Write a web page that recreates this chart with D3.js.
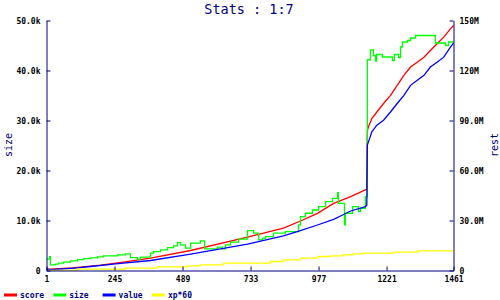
<!DOCTYPE html>
<html>
<head>
<meta charset="utf-8">
<script src="https://cdn.jsdelivr.net/npm/d3@7"></script>
<style>
  body { margin: 0; background: #fff; }
  svg { display: block; }
</style>
</head>
<body>
<svg width="500" height="300"></svg>
<script>
// Data (day, value)
// size in thousands (left axis), the rest in millions (right axis)
const xTicks = [1, 245, 489, 733, 977, 1221, 1461];
const leftTicks = [0, 10, 20, 30, 40, 50];
const leftTickLabels = ["0", "10.0k", "20.0k", "30.0k", "40.0k", "50.0k"];
const rightTicks = [0, 30, 60, 90, 120, 150];
const rightTickLabels = ["0", "30.0M", "60.0M", "90.0M", "120M", "150M"];
const seriesNames = ["score", "size", "value", "xp*60"];

const scoreData = [
  [1, 0.7], [94, 1.6], [195, 3.2], [277, 5.0], [374, 7.4], [518, 12.0],
  [722, 20.0], [851, 25.4], [912, 29.7], [973, 34.3], [1031, 40.3],
  [1092, 44.3], [1149, 48.7], [1152, 84.0], [1156, 86.2], [1168, 91.2],
  [1186, 95.1], [1210, 100.2], [1235, 105.1], [1259, 111.1], [1283, 117.1],
  [1307, 122.1], [1331, 125.0], [1355, 128.0], [1378, 132.0], [1402, 136.0],
  [1426, 140.0], [1450, 145.0], [1461, 147.0]
];

const sizeData = [
  [1, 2.27], [12, 2.79], [15, 1.14], [33, 1.28], [44, 1.48], [62, 1.67],
  [87, 1.93], [112, 2.19], [134, 2.39], [159, 2.53], [184, 2.73], [205, 2.93],
  [256, 3.13], [284, 3.33], [302, 2.59], [327, 2.27], [338, 2.67], [374, 3.47],
  [385, 3.79], [410, 4.13], [435, 4.59], [457, 4.93], [471, 5.58], [482, 5.12],
  [500, 4.47], [518, 5.46], [553, 5.92], [568, 4.33], [614, 4.67], [632, 4.33],
  [643, 5.12], [661, 5.66], [690, 6.26], [722, 7.98], [744, 7.46], [762, 6.12],
  [776, 6.46], [787, 6.78], [815, 7.46], [858, 7.78], [905, 9.11], [912, 10.77],
  [930, 11.45], [955, 12.1], [977, 12.76], [1002, 13.76], [1027, 14.44],
  [1045, 15.55], [1048, 13.44], [1070, 9.11], [1073, 11.45], [1099, 12.76],
  [1120, 11.76], [1127, 12.44], [1145, 14.76], [1152, 42.15], [1163, 44.1],
  [1174, 43.0], [1181, 41.9], [1185, 43.2], [1206, 42.7], [1242, 42.0],
  [1249, 43.2], [1264, 42.6], [1271, 44.7], [1278, 45.7], [1296, 46.0],
  [1307, 46.5], [1325, 47.0], [1396, 45.5], [1432, 45.0], [1443, 45.7],
  [1461, 45.7]
];

const valueData = [
  [1, 1.0], [15, 0.5], [62, 1.0], [112, 1.6], [159, 2.4], [249, 4.0],
  [374, 6.0], [518, 9.8], [722, 15.8], [851, 20.8], [912, 23.9], [973, 27.3],
  [1031, 30.7], [1063, 33.3], [1092, 35.7], [1145, 38.3], [1150, 39.3],
  [1152, 75.2], [1156, 77.2], [1168, 83.2], [1186, 87.2], [1210, 90.2],
  [1235, 95.1], [1259, 100.2], [1283, 105.1], [1307, 111.1], [1331, 114.1],
  [1355, 117.1], [1378, 122.1], [1402, 125.0], [1426, 128.0], [1450, 134.0],
  [1461, 136.4]
];

const xpData = [
  [1, 0.1], [111, 0.8], [284, 1.4], [398, 2.2], [506, 2.8], [553, 3.4],
  [636, 4.4], [804, 5.4], [851, 6.4], [912, 7.4], [973, 8.4], [1020, 8.8],
  [1063, 9.4], [1102, 10.0], [1138, 10.4], [1246, 11.0], [1332, 11.8],
  [1461, 11.8]
];

const navy = "#000080";
const colors = ["#ff0000", "#00ff00", "#0000ff", "#ffff00"];

var svg = d3.select("svg");
var plotLeft = 46.5, plotRight = 453.5, plotTop = 20.5, plotBottom = 270.5;

// Scales
var x = d3.scaleLinear().domain([1, 1461]).range([plotLeft, plotRight]);
var yL = d3.scaleLinear().domain([0, 50]).range([plotBottom, plotTop]);
var yR = d3.scaleLinear().domain([0, 150]).range([plotBottom, plotTop]);

// Title
svg.append("text")
    .attr("x", 249)
    .attr("y", 14)
    .attr("text-anchor", "middle")
    .attr("font-family", "DejaVu Sans Mono")
    .attr("font-size", "13.5px")
    .attr("fill", navy)
    .text("Stats : 1:7");

// Axis labels
svg.append("text")
    .attr("transform", "translate(12,145) rotate(-90)")
    .attr("text-anchor", "middle")
    .attr("font-family", "DejaVu Sans Mono")
    .attr("font-size", "10px")
    .attr("fill", navy)
    .text("size");
svg.append("text")
    .attr("transform", "translate(498,145) rotate(-90)")
    .attr("text-anchor", "middle")
    .attr("font-family", "DejaVu Sans Mono")
    .attr("font-size", "10px")
    .attr("fill", navy)
    .text("rest");

// Series lines, drawn in legend order
var series = [
  { data: scoreData, y: yR, curve: d3.curveLinear },
  { data: sizeData, y: yL, curve: d3.curveStepAfter },
  { data: valueData, y: yR, curve: d3.curveLinear },
  { data: xpData, y: yR, curve: d3.curveStepAfter }
];
series.forEach(function (s, i) {
  var line = d3.line()
      .x(function (d) { return x(d[0]); })
      .y(function (d) { return s.y(d[1]); })
      .curve(s.curve);
  svg.append("path")
      .datum(s.data)
      .attr("fill", "none")
      .attr("stroke", colors[i])
      .attr("stroke-width", 1.3)
      .attr("d", line);
});

// Axes (ticks pointing inward)
function styleAxis(g) {
  g.selectAll("path, line").attr("stroke", navy).attr("stroke-width", 1);
  g.selectAll("text")
      .attr("font-family", "DejaVu Sans Mono")
      .attr("font-weight", "bold")
      .attr("font-size", "8px")
      .attr("fill", "#000");
}

svg.append("g")
    .attr("transform", "translate(0," + plotBottom + ")")
    .call(d3.axisBottom(x).tickValues(xTicks).tickFormat(d3.format("d"))
        .tickSizeInner(-4).tickSizeOuter(0).tickPadding(6))
    .call(styleAxis);

svg.append("g")
    .attr("transform", "translate(" + plotLeft + ",0)")
    .call(d3.axisLeft(yL).tickValues(leftTicks)
        .tickFormat(function (d, i) { return leftTickLabels[i]; })
        .tickSizeInner(-4).tickSizeOuter(0).tickPadding(6))
    .call(styleAxis);

svg.append("g")
    .attr("transform", "translate(" + plotRight + ",0)")
    .call(d3.axisRight(yR).tickValues(rightTicks)
        .tickFormat(function (d, i) { return rightTickLabels[i]; })
        .tickSizeInner(-4).tickSizeOuter(0).tickPadding(6))
    .call(styleAxis);

// Legend
var legend = svg.append("g").attr("transform", "translate(4,295)");
seriesNames.forEach(function (name, i) {
  var g = legend.append("g").attr("transform", "translate(" + (i * 49.3) + ",0)");
  g.append("rect")
      .attr("x", 0).attr("y", -1.5)
      .attr("width", 13).attr("height", 3)
      .attr("fill", colors[i]);
  g.append("text")
      .attr("x", 16).attr("y", 3)
      .attr("font-family", "DejaVu Sans Mono")
      .attr("font-weight", "bold")
      .attr("font-size", "8px")
      .attr("fill", navy)
      .text(name);
});
</script>
</body>
</html>
